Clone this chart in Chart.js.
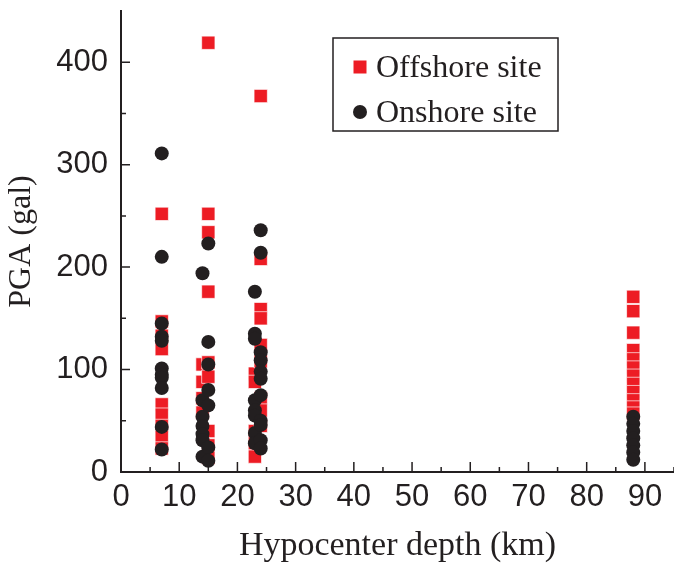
<!DOCTYPE html>
<html>
<head>
<meta charset="utf-8">
<script src="https://cdn.jsdelivr.net/npm/chart.js@4.4.0/dist/chart.umd.min.js"></script>
<style>
  html, body { margin: 0; padding: 0; background: #fff; }
  #wrap { position: relative; width: 674px; height: 568px; }
</style>
</head>
<body>
<div id="wrap"><canvas id="pga"></canvas></div>
<script>
// hypocenter depths (km) the records are grouped at
const depthGroups = [7, 14, 15, 23, 24, 88];

// PGA (gal) per depth group, same order as depthGroups
const offshorePGA = [
  [252, 147, 133, 120, 66, 56, 45, 34, 23],
  [105, 88, 72, 58],
  [419, 252, 234, 176, 107, 93, 40, 26, 14],
  [96, 88, 40, 28, 15],
  [367, 208, 159, 150, 124, 108, 72, 60, 45],
  [171, 157, 136, 119, 110, 102, 94, 86, 78, 70, 63, 57]
];
const onshorePGA = [
  [311, 210, 145, 132, 128, 101, 95, 92, 82, 44, 22],
  [194, 70, 54, 45, 37, 31, 15],
  [223, 127, 105, 80, 65, 24, 11],
  [176, 135, 130, 70, 60, 55, 38, 28],
  [236, 214, 117, 109, 98, 91, 75, 50, 46, 31, 23],
  [54, 47, 40, 33, 26, 19, 12]
];

const seriesNames = ['Offshore site', 'Onshore site'];
const xTicks = [0, 10, 20, 30, 40, 50, 60, 70, 80, 90];
const yTicks = [0, 100, 200, 300, 400];

const RED = '#ed1c24';
const INK = '#231f20';
const SANS = '"Liberation Sans", Arial, sans-serif';
const SERIF = '"Liberation Serif", "Times New Roman", serif';

function toPoints(groups) {
  const pts = [];
  groups.forEach((vals, i) => vals.forEach(v => pts.push({ x: depthGroups[i], y: v })));
  return pts;
}

// the axes sit at fixed offsets, so drop the label overhang padding
function noOverhang(s) {
  s.paddingTop = s.paddingBottom = s.paddingLeft = s.paddingRight = 0;
}

// inward tick marks (major + minor) and the boxed legend
const axisMarks = {
  id: 'axisMarks',
  afterDraw(chart) {
    const { ctx, chartArea: area, scales: { x, y } } = chart;
    ctx.save();
    ctx.strokeStyle = INK;
    ctx.lineWidth = 1.5;
    ctx.beginPath();
    xTicks.forEach((v, i) => {
      const px = x.getPixelForValue(v);
      ctx.moveTo(px, area.bottom);
      ctx.lineTo(px, area.bottom - 10);
      const next = xTicks[i + 1] !== undefined ? xTicks[i + 1] : v + 10;
      const mx = x.getPixelForValue((v + next) / 2);
      ctx.moveTo(mx, area.bottom);
      ctx.lineTo(mx, area.bottom - 5);
    });
    yTicks.forEach((v, i) => {
      const py = y.getPixelForValue(v);
      ctx.moveTo(area.left, py);
      ctx.lineTo(area.left + 9, py);
      if (i < yTicks.length - 1) {
        const my = y.getPixelForValue((v + yTicks[i + 1]) / 2);
        ctx.moveTo(area.left, my);
        ctx.lineTo(area.left + 5, my);
      }
    });
    ctx.stroke();

    // legend
    ctx.lineWidth = 1.5;
    ctx.strokeRect(333, 38, 225, 93);
    const colors = [RED, INK];
    const styles = [
      { pointStyle: 'rect', radius: 9.2, borderWidth: 0, rotation: 0 },
      { pointStyle: 'circle', radius: 7, borderWidth: 0, rotation: 0 }
    ];
    const rows = [67, 112];
    ctx.font = '32px ' + SERIF;
    ctx.textBaseline = 'middle';
    ctx.textAlign = 'left';
    seriesNames.forEach((name, i) => {
      ctx.fillStyle = colors[i];
      Chart.helpers.drawPoint(ctx, styles[i], 360, rows[i]);
      ctx.fillStyle = INK;
      ctx.fillText(name, 376, rows[i] + 2);
    });
    ctx.restore();
  }
};

new Chart(document.getElementById('pga'), {
  type: 'scatter',
  data: {
    datasets: [
      {
        label: seriesNames[0],
        data: toPoints(offshorePGA),
        pointStyle: 'rect',
        pointRadius: 9.4,
        backgroundColor: RED,
        borderColor: 'rgba(255,255,255,0.85)',
        borderWidth: 0.8,
        order: 1
      },
      {
        label: seriesNames[1],
        data: toPoints(onshorePGA),
        pointStyle: 'circle',
        pointRadius: 7,
        backgroundColor: INK,
        borderColor: INK,
        borderWidth: 0,
        order: 0
      }
    ]
  },
  options: {
    responsive: true,
    maintainAspectRatio: false,
    animation: false,
    events: [],
    layout: { autoPadding: false, padding: { top: 11, right: 0, left: 0, bottom: 0 } },
    plugins: { legend: { display: false }, tooltip: { enabled: false } },
    scales: {
      x: {
        type: 'linear',
        min: 0,
        max: 95,
        afterBuildTicks: s => { s.ticks = xTicks.map(v => ({ value: v })); },
        afterFit: s => { s.height = 96; noOverhang(s); },
        grid: { display: false, drawTicks: false },
        border: { display: true, color: INK, width: 2 },
        ticks: { font: { family: SANS, size: 31 }, color: INK, padding: 7, maxRotation: 0, autoSkip: false },
        title: {
          display: true,
          text: 'Hypocenter depth (km)',
          font: { family: SERIF, size: 34 },
          color: INK,
          padding: { top: 0, bottom: 2 }
        }
      },
      y: {
        type: 'linear',
        min: 0,
        max: 450,
        afterBuildTicks: s => { s.ticks = yTicks.map(v => ({ value: v })); },
        afterFit: s => { s.width = 121; noOverhang(s); },
        grid: { display: false, drawTicks: false },
        border: { display: true, color: INK, width: 2 },
        ticks: { font: { family: SANS, size: 31 }, color: INK, padding: 13 },
        title: {
          display: true,
          text: 'PGA (gal)',
          font: { family: SERIF, size: 32 },
          color: INK,
          padding: { top: 2, bottom: 0 }
        }
      }
    }
  },
  plugins: [axisMarks]
});
</script>
</body>
</html>
